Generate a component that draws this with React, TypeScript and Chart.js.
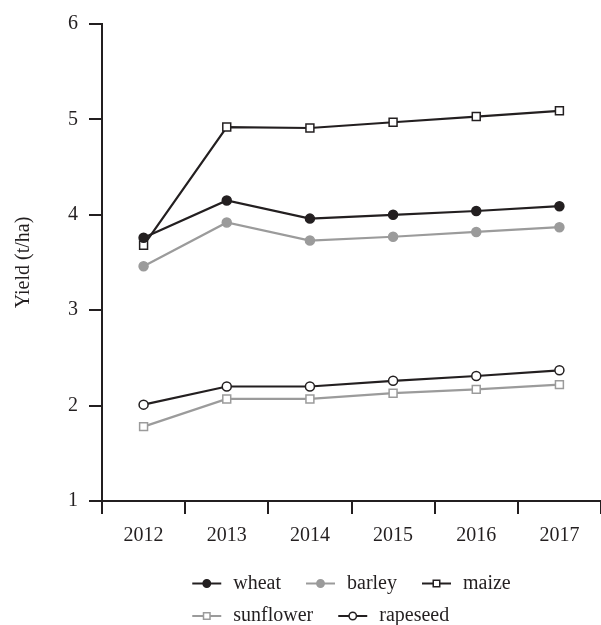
import React, { useEffect, useRef } from 'react';
import { Chart, registerables } from 'chart.js';

Chart.register(...registerables);

const years = ['2012', '2013', '2014', '2015', '2016', '2017'];
const wheat = [3.76, 4.15, 3.96, 4.0, 4.04, 4.09];
const barley = [3.46, 3.92, 3.73, 3.77, 3.82, 3.87];
const maize = [3.68, 4.92, 4.91, 4.97, 5.03, 5.09];
const sunflower = [1.78, 2.07, 2.07, 2.13, 2.17, 2.22];
const rapeseed = [2.01, 2.2, 2.2, 2.26, 2.31, 2.37];
const yTicks = [1, 2, 3, 4, 5, 6];
const yTitle = 'Yield (t/ha)';

const DARK = '#231f20';
const GRAY = '#9b9b9b';
const FONT = '"Liberation Serif", "Times New Roman", serif';

function drawMarker(ctx: CanvasRenderingContext2D, ds: any, x: number, y: number, r: number) {
  ctx.save();
  ctx.lineWidth = ds.pointBorderWidth;
  ctx.strokeStyle = ds.pointBorderColor;
  ctx.fillStyle = ds.pointBackgroundColor;
  ctx.beginPath();
  if (ds.pointStyle === 'rect') {
    const s = Math.SQRT1_2 * r;
    ctx.rect(x - s, y - s, 2 * s, 2 * s);
  } else {
    ctx.arc(x, y, r, 0, Math.PI * 2);
  }
  ctx.fill();
  ctx.stroke();
  ctx.restore();
}

const legendPlugin = {
  id: 'customLegend',
  afterDraw(chart: any) {
    const ctx: CanvasRenderingContext2D = chart.ctx;
    const area = chart.chartArea;
    const dss = chart.data.datasets;
    ctx.save();
    ctx.font = '20px ' + FONT;
    const rows = [[0, 1, 2], [3, 4]];
    const lineLen = 29;
    const textGap = 12;
    const itemGap = 25;
    const widths = rows.map((r) =>
      r.reduce((s, i, k) => s + lineLen + textGap + ctx.measureText(dss[i].label).width + (k > 0 ? itemGap : 0), 0)
    );
    const startX = (area.left + area.right) / 2 - widths[0] / 2;
    const rowY = [area.bottom + 82.5, area.bottom + 115];
    rows.forEach((r, ri) => {
      let x = startX;
      const y = rowY[ri];
      r.forEach((i) => {
        const ds = dss[i];
        ctx.strokeStyle = ds.borderColor;
        ctx.lineWidth = 2;
        ctx.beginPath();
        ctx.moveTo(x, y);
        ctx.lineTo(x + lineLen, y);
        ctx.stroke();
        drawMarker(ctx, ds, x + lineLen / 2, y, ds.pointRadius * 0.82);
        ctx.fillStyle = DARK;
        ctx.textBaseline = 'middle';
        ctx.textAlign = 'left';
        const tx = x + lineLen + textGap;
        ctx.fillText(ds.label, tx, y);
        x = tx + ctx.measureText(ds.label).width + itemGap;
      });
    });
    ctx.restore();
  },
};

export default function App() {
  const ref = useRef<HTMLCanvasElement>(null);
  useEffect(() => {
    if (!ref.current) return;
    const mk = (label: string, data: number[], color: string, style: string, fill: string, radius: number) => ({
      label,
      data,
      borderColor: color,
      borderWidth: 2.2,
      pointStyle: style,
      pointRadius: radius,
      pointBorderWidth: 1.5,
      pointBorderColor: color,
      pointBackgroundColor: fill,
      pointHoverRadius: radius,
      tension: 0,
    });
    const chart = new Chart(ref.current, {
      type: 'line',
      data: {
        labels: years,
        datasets: [
          mk('wheat', wheat, DARK, 'circle', DARK, 4.5),
          mk('barley', barley, GRAY, 'circle', GRAY, 4.5),
          mk('maize', maize, DARK, 'rect', '#ffffff', 5.6),
          mk('sunflower', sunflower, GRAY, 'rect', '#ffffff', 5.6),
          mk('rapeseed', rapeseed, DARK, 'circle', '#ffffff', 4.5),
        ] as any,
      },
      options: {
        responsive: false,
        animation: false,
        layout: { autoPadding: false, padding: { top: 24, left: 0, right: 0, bottom: 0 } },
        plugins: { legend: { display: false }, tooltip: { enabled: false } },
        scales: {
          x: {
            type: 'category',
            offset: true,
            grid: {
              offset: true,
              drawOnChartArea: false,
              drawTicks: true,
              tickLength: 13,
              color: DARK,
              lineWidth: 2,
            },
            border: { color: DARK, width: 2 },
            ticks: { color: DARK, font: { family: FONT, size: 20 }, padding: 10, maxRotation: 0 },
            afterFit: (s: any) => {
              s.height = 124;
            },
          },
          y: {
            min: 1,
            max: 6,
            grid: {
              drawOnChartArea: false,
              drawTicks: true,
              tickLength: 13,
              color: DARK,
              lineWidth: 2,
            },
            border: { color: DARK, width: 2 },
            afterBuildTicks: (s: any) => {
              s.ticks = yTicks.map((v) => ({ value: v }));
            },
            ticks: { color: DARK, font: { family: FONT, size: 20 }, padding: 11 },
            title: {
              display: true,
              text: yTitle,
              color: DARK,
              font: { family: FONT, size: 20 },
              padding: { top: 12, bottom: 0 },
            },
            afterFit: (s: any) => {
              s.width = 102;
            },
          },
        },
      } as any,
      plugins: [legendPlugin],
    });
    return () => chart.destroy();
  }, []);
  return (
    <canvas
      ref={ref}
      width={601}
      height={625}
      style={{ position: 'absolute', left: 0, top: 0, width: 601, height: 625 }}
    />
  );
}
